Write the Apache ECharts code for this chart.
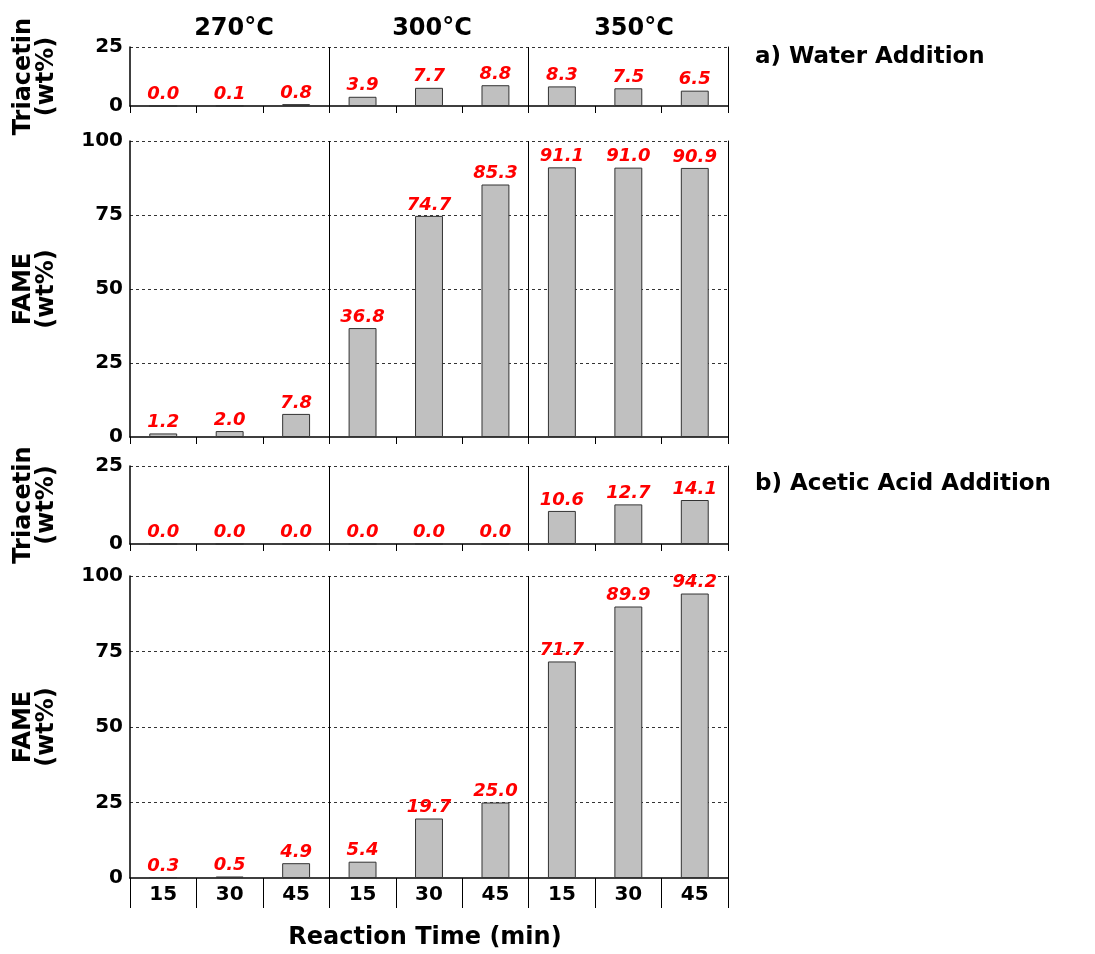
<!DOCTYPE html>
<html>
<head>
<meta charset="utf-8">
<script src="https://cdn.jsdelivr.net/npm/echarts@6/dist/echarts.min.js"></script>
<style>
html,body{margin:0;padding:0;background:#fff;}
#chart{width:1095px;height:954px;}
</style>
</head>
<body>
<div id="chart"></div>
<script>
// ---- data ----
var categories = ['15','30','45','15','30','45','15','30','45'];
var temperatures = ['270°C','300°C','350°C'];
var waterTriacetin = [0.0, 0.1, 0.8, 3.9, 7.7, 8.8, 8.3, 7.5, 6.5];
var waterFAME = [1.2, 2.0, 7.8, 36.8, 74.7, 85.3, 91.1, 91.0, 90.9];
var acidTriacetin = [0.0, 0.0, 0.0, 0.0, 0.0, 0.0, 10.6, 12.7, 14.1];
var acidFAME = [0.3, 0.5, 4.9, 5.4, 19.7, 25.0, 71.7, 89.9, 94.2];
var triacetinMax = 25, fameMax = 100, yStep = 25;

var FONT = 'DejaVu Sans';
var chart = echarts.init(document.getElementById('chart'));

var grids = [
  {left: 130, width: 598, top: 47, height: 59},
  {left: 130, width: 598, top: 141, height: 296},
  {left: 130, width: 598, top: 466, height: 78},
  {left: 130, width: 598, top: 576, height: 302}
];
var seriesData = [waterTriacetin, waterFAME, acidTriacetin, acidFAME];
var maxes = [triacetinMax, fameMax, triacetinMax, fameMax];
var names = ['Triacetin\n(wt%)', 'FAME\n(wt%)', 'Triacetin\n(wt%)', 'FAME\n(wt%)'];

var xAxes = [], yAxes = [], series = [];
grids.forEach(function(g, i){
  var last = (i === 3);
  xAxes.push({
    type: 'category', gridIndex: i, data: categories,
    axisLine: {show: true, lineStyle: {color: '#000', width: 1.5}},
    axisTick: {show: true, length: last ? 30 : 7, lineStyle: {color: '#000', width: 1}},
    axisLabel: {show: last, color: '#000', fontFamily: FONT, fontWeight: 'bold', fontSize: 20, margin: 7},
    splitLine: {show: true, interval: function(idx){ return idx === 3 || idx === 6; },
                lineStyle: {color: '#000', width: 1}}
  });
  yAxes.push({
    type: 'value', gridIndex: i, min: 0, max: maxes[i], interval: yStep,
    name: names[i], nameLocation: 'middle', nameRotate: 90, nameGap: 72,
    nameTextStyle: {color: '#000', fontFamily: FONT, fontWeight: 'bold', fontSize: 24, lineHeight: 23},
    axisLine: {show: true, lineStyle: {color: '#000', width: 1.5}},
    axisTick: {show: false},
    axisLabel: {color: '#000', fontFamily: FONT, fontWeight: 'bold', fontSize: 20, margin: 7},
    splitLine: {show: true, showMinLine: false, lineStyle: {color: '#333', width: 1, type: [3, 3]}}
  });
  yAxes.push({
    type: 'value', gridIndex: i, min: 0, max: maxes[i], position: 'right',
    axisLine: {show: true, lineStyle: {color: '#000', width: 1}},
    axisTick: {show: false}, axisLabel: {show: false}, splitLine: {show: false}
  });
  series.push({
    type: 'bar', xAxisIndex: i, yAxisIndex: i * 2, data: seriesData[i],
    barWidth: '42%',
    itemStyle: {color: '#c0c0c0', borderColor: '#333', borderWidth: 1},
    label: {show: true, position: 'top', distance: 2, color: '#ff0000',
            fontFamily: FONT, fontWeight: 'bold', fontStyle: 'italic', fontSize: 18,
            formatter: function(p){ return p.value.toFixed(1); }}
  });
});

var textStyle = function(size){ return {fill: '#000', font: 'bold ' + size + 'px "' + FONT + '"', textAlign: 'center', textVerticalAlign: 'middle'}; };
var graphics = [];
var tempX = [234, 432, 634];
temperatures.forEach(function(t, k){
  graphics.push({type: 'text', x: tempX[k], y: 29, style: Object.assign({text: t}, textStyle(24))});
});
graphics.push({type: 'text', x: 755, y: 57, style: {text: 'a) Water Addition', fill: '#000', font: 'bold 23px "' + FONT + '"', textAlign: 'left', textVerticalAlign: 'middle'}});
graphics.push({type: 'text', x: 755, y: 484, style: {text: 'b) Acetic Acid Addition', fill: '#000', font: 'bold 23px "' + FONT + '"', textAlign: 'left', textVerticalAlign: 'middle'}});
graphics.push({type: 'text', x: 425, y: 938, style: Object.assign({text: 'Reaction Time (min)'}, textStyle(24))});

chart.setOption({
  animation: false,
  grid: grids,
  xAxis: xAxes,
  yAxis: yAxes,
  series: series,
  graphic: graphics
});
</script>
</body>
</html>
